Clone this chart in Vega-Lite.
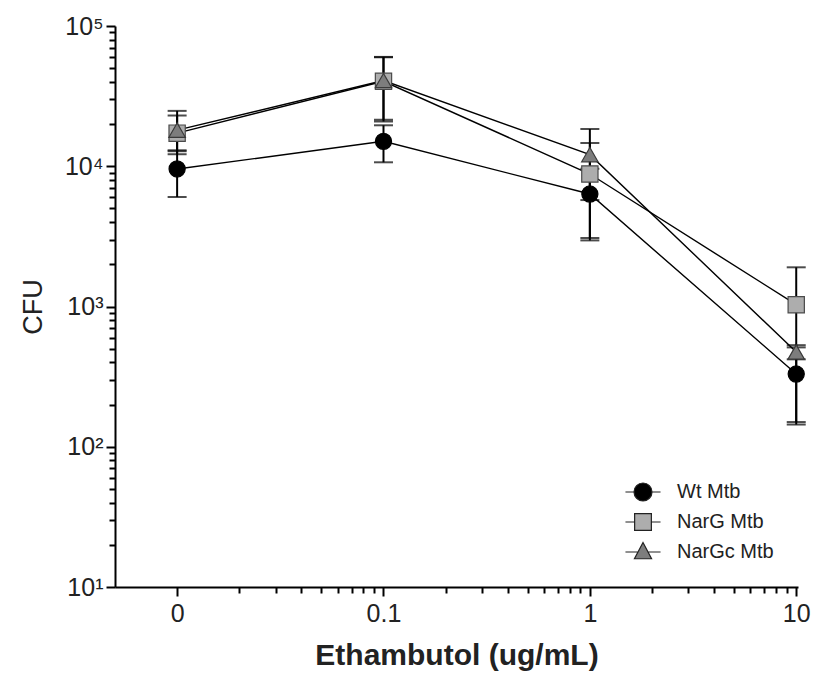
{
  "$schema": "https://vega.github.io/schema/vega-lite/v6.json",
  "width": 683,
  "height": 561,
  "padding": {"left": 19, "top": 14, "right": 5, "bottom": 5},
  "background": "white",
  "config": {"view": {"stroke": null}, "font": "Liberation Sans"},
  "data": {
    "values": [
      {"series": "Wt Mtb", "dose": 0.01, "cfu": 9560, "lo": 6035, "hi": 13000},
      {"series": "Wt Mtb", "dose": 0.1, "cfu": 15060, "lo": 10670, "hi": 19590},
      {"series": "Wt Mtb", "dose": 1, "cfu": 6340, "lo": 3078, "hi": 9600},
      {"series": "Wt Mtb", "dose": 10, "cfu": 330, "lo": 150, "hi": 511},
      {"series": "NarG Mtb", "dose": 0.01, "cfu": 17220, "lo": 12180, "hi": 23000},
      {"series": "NarG Mtb", "dose": 0.1, "cfu": 40340, "lo": 20850, "hi": 59830},
      {"series": "NarG Mtb", "dose": 1, "cfu": 8805, "lo": 2960, "hi": 14650},
      {"series": "NarG Mtb", "dose": 10, "cfu": 1030, "lo": 144, "hi": 1903},
      {"series": "NarGc Mtb", "dose": 0.01, "cfu": 18080, "lo": 12800, "hi": 24820},
      {"series": "NarGc Mtb", "dose": 0.1, "cfu": 40830, "lo": 21460, "hi": 60200},
      {"series": "NarGc Mtb", "dose": 1, "cfu": 12090, "lo": 5740, "hi": 18440},
      {"series": "NarGc Mtb", "dose": 10, "cfu": 474, "lo": 420, "hi": 530}
    ]
  },
  "encoding": {
    "x": {
      "field": "dose",
      "type": "quantitative",
      "scale": {"type": "log", "domain": [0.005, 10.2], "nice": false},
      "axis": {
        "title": "Ethambutol (ug/mL)",
        "values": [0.01, 0.02, 0.03, 0.04, 0.05, 0.06, 0.07, 0.08, 0.09, 0.1, 0.2, 0.3, 0.4, 0.5, 0.6, 0.7, 0.8, 0.9, 1, 2, 3, 4, 5, 6, 7, 8, 9, 10],
        "labelExpr": "datum.value == 0.01 ? '0' : datum.value == 0.1 ? '0.1' : datum.value == 1 ? '1' : datum.value == 10 ? '10' : ''",
        "tickSize": {"condition": {"test": "indexof([0.01, 0.1, 1, 10], datum.value) >= 0", "value": 9}, "value": 6},
        "grid": false,
        "domainColor": "black",
        "domainWidth": 2,
        "tickColor": "black",
        "tickWidth": 2,
        "labelFontSize": 25,
        "labelColor": "#222",
        "labelPadding": 5,
        "labelOverlap": false,
        "labelFlush": false,
        "titleFontSize": 30,
        "titleFontWeight": "bold",
        "titleColor": "#222",
        "titlePadding": 14
      }
    }
  },
  "layer": [
    {
      "mark": {
        "type": "errorbar",
        "ticks": {"size": 19, "thickness": 2, "color": "black"},
        "rule": {"strokeWidth": 2, "color": "black"}
      },
      "encoding": {
        "y": {
          "field": "lo",
          "type": "quantitative",
          "title": "CFU",
          "scale": {"type": "log", "domain": [10, 100000], "nice": false},
          "axis": {
            "values": [10, 20, 30, 40, 50, 60, 70, 80, 90, 100, 200, 300, 400, 500, 600, 700, 800, 900, 1000, 2000, 3000, 4000, 5000, 6000, 7000, 8000, 9000, 10000, 20000, 30000, 40000, 50000, 60000, 70000, 80000, 90000, 100000],
            "labelExpr": "datum.value == 10 ? '10¹' : datum.value == 100 ? '10²' : datum.value == 1000 ? '10³' : datum.value == 10000 ? '10⁴' : datum.value == 100000 ? '10⁵' : ''",
            "tickSize": {"condition": {"test": "indexof([10, 100, 1000, 10000, 100000], datum.value) >= 0", "value": 9}, "value": 6},
            "grid": false,
            "domainColor": "black",
            "domainWidth": 2,
            "tickColor": "black",
            "tickWidth": 2,
            "labelFontSize": 25,
            "labelColor": "#222",
            "labelPadding": 3,
            "labelOverlap": false,
            "labelFlush": false,
            "titleFontSize": 27,
            "titleFontWeight": "normal",
            "titleColor": "#222",
            "titlePadding": 17
          }
        },
        "y2": {"field": "hi"},
        "detail": {"field": "series"}
      }
    },
    {
      "mark": {"type": "line", "color": "black", "strokeWidth": 1.4},
      "encoding": {
        "y": {"field": "cfu", "type": "quantitative", "title": "CFU", "scale": {"type": "log", "domain": [10, 100000], "nice": false}},
        "detail": {"field": "series"},
        "order": {"field": "dose"}
      }
    },
    {
      "mark": {"type": "point", "filled": true, "opacity": 1, "strokeWidth": 1.2},
      "encoding": {
        "y": {"field": "cfu", "type": "quantitative", "title": "CFU", "scale": {"type": "log", "domain": [10, 100000], "nice": false}},
        "shape": {
          "field": "series",
          "scale": {"domain": ["Wt Mtb", "NarG Mtb", "NarGc Mtb"], "range": ["circle", "square", "triangle-up"]},
          "legend": null
        },
        "fill": {
          "field": "series",
          "scale": {"domain": ["Wt Mtb", "NarG Mtb", "NarGc Mtb"], "range": ["#000000", "#adadad", "#7d7d7d"]},
          "legend": null
        },
        "stroke": {
          "field": "series",
          "scale": {"domain": ["Wt Mtb", "NarG Mtb", "NarGc Mtb"], "range": ["#000000", "#4a4a4a", "#3a3a3a"]},
          "legend": null
        },
        "size": {
          "field": "series",
          "scale": {"domain": ["Wt Mtb", "NarG Mtb", "NarGc Mtb"], "range": [260, 270, 400]},
          "legend": null
        }
      }
    },
    {
      "mark": {"type": "point", "filled": false, "opacity": 0},
      "encoding": {
        "y": {"field": "cfu", "type": "quantitative", "title": "CFU", "scale": {"type": "log", "domain": [10, 100000], "nice": false}},
        "fill": {
          "field": "series",
          "scale": {"domain": ["Wt Mtb", "NarG Mtb", "NarGc Mtb"], "range": ["#000000", "#adadad", "#7d7d7d"]},
          "legend": {
            "title": null,
            "orient": "none",
            "legendX": 518,
            "legendY": 456,
            "padding": 0,
            "symbolSize": 324,
            "symbolStrokeWidth": 1.2,
            "symbolStrokeColor": "#222222",
            "symbolFillColor": "#000000",
            "symbolOpacity": 1,
            "labelFontSize": 20,
            "labelColor": "#222",
            "labelOffset": 24,
            "rowPadding": 7
          }
        },
        "shape": {
          "field": "series",
          "scale": {
            "domain": ["Wt Mtb", "NarG Mtb", "NarGc Mtb"],
            "range": [
              "M-1.95,0L-1,0M1,0L1.95,0M1,0A1,1,0,1,1,-1,0A1,1,0,1,1,1,0Z",
              "M-1.95,0L-0.93,0M0.93,0L1.95,0M-0.93,-0.93L0.93,-0.93L0.93,0.93L-0.93,0.93Z",
              "M-1.95,0L-0.55,0M0.55,0L1.95,0M0,-1.05L0.95,0.75L-0.95,0.75Z"
            ]
          },
          "legend": {
            "title": null,
            "orient": "none",
            "legendX": 518,
            "legendY": 456,
            "padding": 0,
            "symbolSize": 324,
            "symbolStrokeWidth": 1.2,
            "symbolStrokeColor": "#222222",
            "symbolFillColor": "#000000",
            "symbolOpacity": 1,
            "labelFontSize": 20,
            "labelColor": "#222",
            "labelOffset": 24,
            "rowPadding": 7
          }
        }
      }
    }
  ],
  "resolve": {"scale": {"shape": "independent", "fill": "independent"}}
}
